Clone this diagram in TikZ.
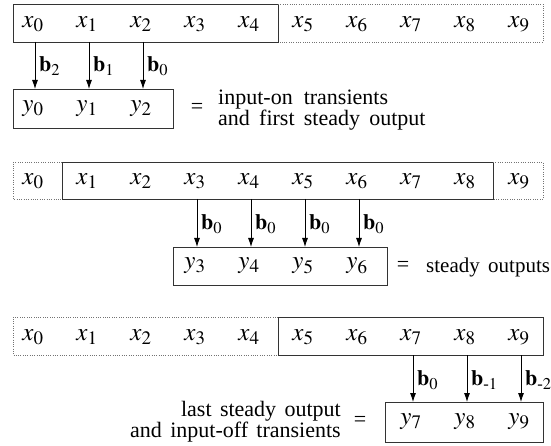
\documentclass[tikz,border=0pt]{standalone}
\usepackage{amsmath}
\usepackage{mathptmx}
\usepackage{fontspec}
\setmainfont{Liberation Serif}
\DeclareMathSizes{25}{25}{19}{15}
\DeclareMathSizes{22}{22}{16.5}{13}
\usetikzlibrary{arrows.meta}
\begin{document}
\begin{tikzpicture}[x=1pt,y=-1pt,
  font=\fontsize{22}{21}\selectfont,
  solidbox/.style={draw=black!80,line width=0.9pt},
  dotbox/.style={draw=black!55,line width=0.7pt,dash pattern=on 0.7pt off 1.6pt},
  cell/.style={inner sep=0pt,font=\fontsize{25}{25}\selectfont},
  feed/.style={line width=0.8pt,-{Latex[length=9pt,width=6pt]}},
  blabel/.style={anchor=west,inner sep=0pt,font=\fontsize{22}{22}\selectfont},
  note/.style={inner sep=0pt,align=left}]
\useasboundingbox (0,0) rectangle (551,446);
% ---------- Row 1 ----------
\draw[solidbox] (13,4) rectangle (278,42);
\draw[dotbox] (278,4) -- (543,4) -- (543,42) -- (278,42);
\foreach \i in {0,...,9} {\node[cell] (a\i) at ({33+54*\i},24) {$x_{\i}$};}
\draw[solidbox] (13,89) rectangle (173,128);
\foreach \i in {0,1,2} {\node[cell] (ya\i) at ({33+54*\i},109) {$y_{\i}$};}
\foreach \i/\b in {0/2,1/1,2/0} {
  \coordinate (as\i) at ({35+54*\i},42);
  \coordinate (ae\i) at ({35+54*\i},89);
  \draw[feed] (as\i) -- (ae\i);
  \node[blabel] (ab\i) at ({39+54*\i},66) {$\mathbf{b}_{\b}$};
}
\node[inner sep=0pt] (eqa) at (197,108) {=};
\node[note,anchor=west] (na) at (218,110) {input-on\hspace{0.5em}transients\\and\hspace{0.42em}first\hspace{0.42em}steady\hspace{0.42em}output};
% ---------- Row 2 ----------
\draw[dotbox] (62,162) -- (13,162) -- (13,199) -- (62,199);
\draw[solidbox] (62,162) rectangle (493,199);
\draw[dotbox] (493,162) -- (543,162) -- (543,199) -- (493,199);
\foreach \i in {0,...,9} {\node[cell] (b\i) at ({33+54*\i},181) {$x_{\i}$};}
\draw[solidbox] (173,247) rectangle (387,285);
\foreach \i in {3,...,6} {
  \node[cell] (yb\i) at ({33+54*\i},266) {$y_{\i}$};
  \coordinate (bs\i) at ({35+54*\i},199);
  \coordinate (be\i) at ({35+54*\i},247);
  \draw[feed] (bs\i) -- (be\i);
  \node[blabel] (bb\i) at ({39+54*\i},224) {$\mathbf{b}_{0}$};
}
\node[inner sep=0pt] (eqb) at (403,266) {=};
\node[note,anchor=west,font=\fontsize{21}{21}\selectfont] (nb) at (426,267) {steady\hspace{0.4em}outputs};
% ---------- Row 3 ----------
\draw[dotbox] (278,317) -- (13,317) -- (13,355) -- (278,355);
\draw[solidbox] (278,317) rectangle (543,355);
\foreach \i in {0,...,9} {\node[cell] (c\i) at ({33+54*\i},337) {$x_{\i}$};}
\draw[solidbox] (385,402) rectangle (543,442);
\foreach \i/\b in {7/0,8/{\textrm{-}1},9/{\textrm{-}2}} {
  \node[cell] (yc\i) at ({33+54*\i},422) {$y_{\i}$};
  \coordinate (cs\i) at ({35+54*\i},355);
  \coordinate (ce\i) at ({35+54*\i},402);
  \draw[feed] (cs\i) -- (ce\i);
  \node[blabel] (cb\i) at ({39+54*\i},380) {$\mathbf{b}_{\b}$};
}
\node[inner sep=0pt] (eqc) at (360,421) {=};
\node[note,align=right,anchor=east] (nc) at (341,422) {last\hspace{0.38em}steady\hspace{0.38em}output\\and\hspace{0.38em}input-off\hspace{0.38em}transients};
\end{tikzpicture}
\end{document}
